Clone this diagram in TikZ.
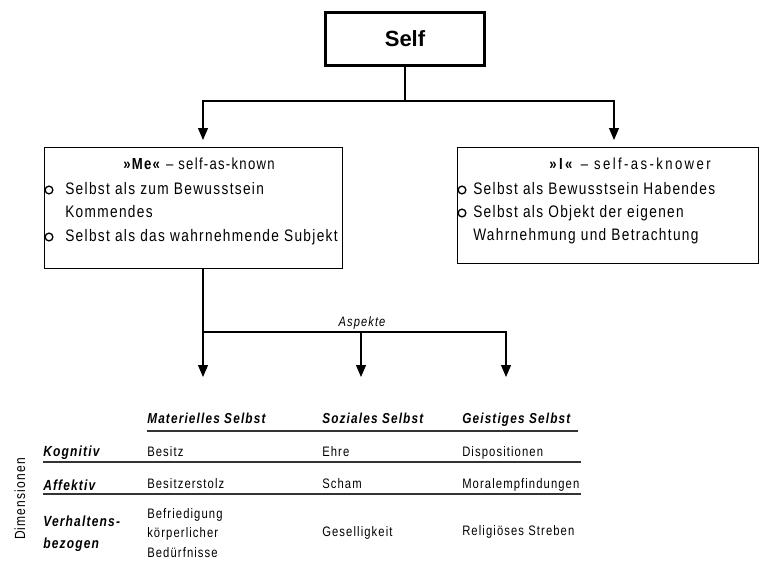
\documentclass[tikz,border=0pt]{standalone}
\usepackage{fontspec}
\setmainfont{Liberation Sans}[FakeStretch=0.82, LetterSpace=8]
\newfontfamily\titlefont{Liberation Sans}
\usetikzlibrary{arrows.meta}
\begin{document}
\begin{tikzpicture}[x=0.75pt, y=-0.75pt,
  frame/.style={draw, line width=0.8pt, inner sep=0, anchor=north west},
  txt/.style={inner sep=0, anchor=west, text height=8.5pt, text depth=2.5pt, font=\fontsize{12.5}{14}\selectfont},
  head/.style={inner sep=0, text height=8.5pt, text depth=2.5pt, font=\fontsize{12}{14}\selectfont},
  colhead/.style={inner sep=0, anchor=west, text height=8pt, text depth=2.5pt, font=\fontsize{10.8}{13}\selectfont\bfseries\itshape},
  rowhead/.style={inner sep=0, anchor=west, align=left, font=\fontsize{11}{16.5}\selectfont\bfseries\itshape},
  cell/.style={inner sep=0, anchor=west, align=left, text height=7.5pt, text depth=2.5pt, font=\fontsize{10.3}{12.75}\selectfont},
  bullet/.style={draw, circle, line width=1pt, inner sep=0, minimum size=5.8pt},
  conn/.style={line width=0.8pt},
  arr/.style={conn, -{Triangle[width=7.5pt, length=9pt]}},
  rule/.style={line width=0.9pt, draw=black!80}
]
\useasboundingbox (0,0) rectangle (763,561);

% top node
\node[draw, line width=2.3pt, minimum width=119pt, minimum height=40pt, inner sep=0,
      font=\titlefont\fontsize{16.5}{18}\selectfont\bfseries] (self) at (405,39) {Self};

% the two boxes
\node[frame, minimum width=223.5pt, minimum height=90.5pt] (me) at (44,147) {};
\node[frame, minimum width=225.5pt, minimum height=87pt] (i) at (457,147) {};

% "Me" box content
\node[head] (meh) at (199,165) {\textbf{»Me«} – self-as-known};
\node[bullet] (mb1) at (49,190) {};
\node[txt] (m1) at (65,190) {Selbst als zum Bewusstsein};
\node[txt] (m2) at (65,213) {Kommendes};
\node[bullet] (mb2) at (49,237) {};
\node[txt] (m3) at (65,237) {Selbst als das wahrnehmende Subjekt};

% "I" box content
\node[head] (ih) at (630,165) {\addfontfeatures{LetterSpace=15}\textbf{»I«} – self-as-knower};
\node[bullet] (ib1) at (462,190) {};
\node[txt] (i1) at (473,190) {Selbst als Bewusstsein Habendes};
\node[bullet] (ib2) at (462,213) {};
\node[txt] (i2) at (473,213) {Selbst als Objekt der eigenen};
\node[txt] (i3) at (473,236) {Wahrnehmung und Betrachtung};

% connectors from the top node
\coordinate (fork) at (405,101);
\coordinate (meIn) at (203,140);
\coordinate (iIn) at (614,140);
\draw[conn] (self.south) -- (fork);
\draw[arr] (fork) -| (meIn);
\draw[arr] (fork) -| (iIn);

% aspects
\coordinate (meOut) at (203,268);
\coordinate (asp) at (203,332);
\coordinate (aMat) at (203,377);
\coordinate (aSoz) at (361,377);
\coordinate (aGei) at (506,377);
\draw[conn] (meOut) -- (asp);
\draw[arr] (asp) -- (aMat);
\draw[arr] (asp) -| (aGei);
\draw[arr] (asp -| aSoz) -- (aSoz);
\node[inner sep=0, font=\fontsize{10.2}{11}\selectfont\itshape] (asplab) at (362,323) {Aspekte};

% table
\node[colhead] (c1) at (147,420) {Materielles Selbst};
\node[colhead] (c2) at (322,420) {Soziales Selbst};
\node[colhead] (c3) at (462,420) {Geistiges Selbst};
\coordinate (hl) at (147,431);
\coordinate (hr) at (578,431);
\draw[rule] (hl) -- (hr);

\node[rowhead] (r1) at (43,453) {Kognitiv};
\node[cell] (r1c1) at (147,453) {Besitz};
\node[cell] (r1c2) at (322,453) {Ehre};
\node[cell] (r1c3) at (462,453) {Dispositionen};
\coordinate (l1l) at (43,462);
\coordinate (l1r) at (581,462);
\draw[rule] (l1l) -- (l1r);

\node[rowhead] (r2) at (43,485) {Affektiv};
\node[cell] (r2c1) at (147,485) {Besitzerstolz};
\node[cell] (r2c2) at (322,485) {Scham};
\node[cell] (r2c3) at (462,485) {Moralempfindungen};
\coordinate (l2l) at (43,494);
\coordinate (l2r) at (581,494);
\draw[rule] (l2l) -- (l2r);

\node[rowhead] (r3) at (43,534) {Verhaltens-\\bezogen};
\node[inner sep=0, anchor=west, align=left, font=\fontsize{10.3}{14.6}\selectfont] (r3c1) at (147,533) {Befriedigung\\körperlicher\\Bedürfnisse};
\node[cell] (r3c2) at (322,533) {Geselligkeit};
\node[cell] (r3c3) at (462,532) {Religiöses Streben};

\node[inner sep=0, rotate=90, font=\fontsize{11}{12}\selectfont] (dim) at (20,499) {Dimensionen};
\end{tikzpicture}
\end{document}
